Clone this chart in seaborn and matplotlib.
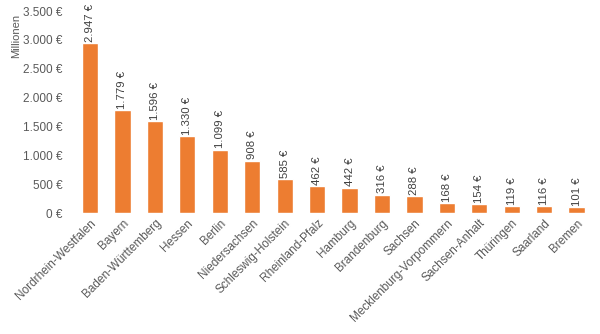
import matplotlib
matplotlib.use("Agg")
import matplotlib.pyplot as plt
import seaborn as sns
import pandas as pd

states = ["Nordrhein-Westfalen", "Bayern", "Baden-Württemberg", "Hessen", "Berlin",
          "Niedersachsen", "Schleswig-Holstein", "Rheinland-Pfalz", "Hamburg",
          "Brandenburg", "Sachsen", "Mecklenburg-Vorpommern", "Sachsen-Anhalt",
          "Thüringen", "Saarland", "Bremen"]
values = [2947, 1779, 1596, 1330, 1099, 908, 585, 462, 442, 316, 288, 168, 154, 119, 116, 101]
yticks = [0, 500, 1000, 1500, 2000, 2500, 3000, 3500]

def fmt(v):
    return f"{v:,}".replace(",", ".") + " €"

sns.set_theme(style="white")
plt.rcParams['font.family'] = ['Liberation Sans', 'DejaVu Sans']

df = pd.DataFrame({"state": states, "value": values})
fig = plt.figure(figsize=(6, 3.34), dpi=100)
ax = fig.add_axes([0.123, 0.362, 0.865, 0.605])
sns.barplot(data=df, x="state", y="value", color="#ED7D31", width=0.5, saturation=1, ax=ax)
ax.set_xlim(-0.5, len(states) - 0.5)
ax.set_ylim(0, 3500)
ax.set_yticks(yticks)
ax.set_yticklabels([fmt(t) for t in yticks], fontsize=8.5, color="#595959")
ax.set_xticks(range(len(states)))
ax.set_xticklabels(states, rotation=45, ha="right", rotation_mode="anchor",
                   fontsize=8.5, color="#595959")
ax.tick_params(axis="y", length=0, pad=8)
ax.tick_params(axis="x", length=0, pad=3)
ax.set_xlabel("")
ax.set_ylabel("")
for s in ax.spines.values():
    s.set_visible(False)
for i, v in enumerate(values):
    ax.text(i, v + 25, fmt(v), rotation=90, ha="center", va="bottom",
            fontsize=8.2, color="#404040")
ax.text(-0.112, 0.876, "Millionen", rotation=90, transform=ax.transAxes,
        ha="center", va="center", fontsize=8, color="#595959")
fig.savefig("out.png", dpi=100)
